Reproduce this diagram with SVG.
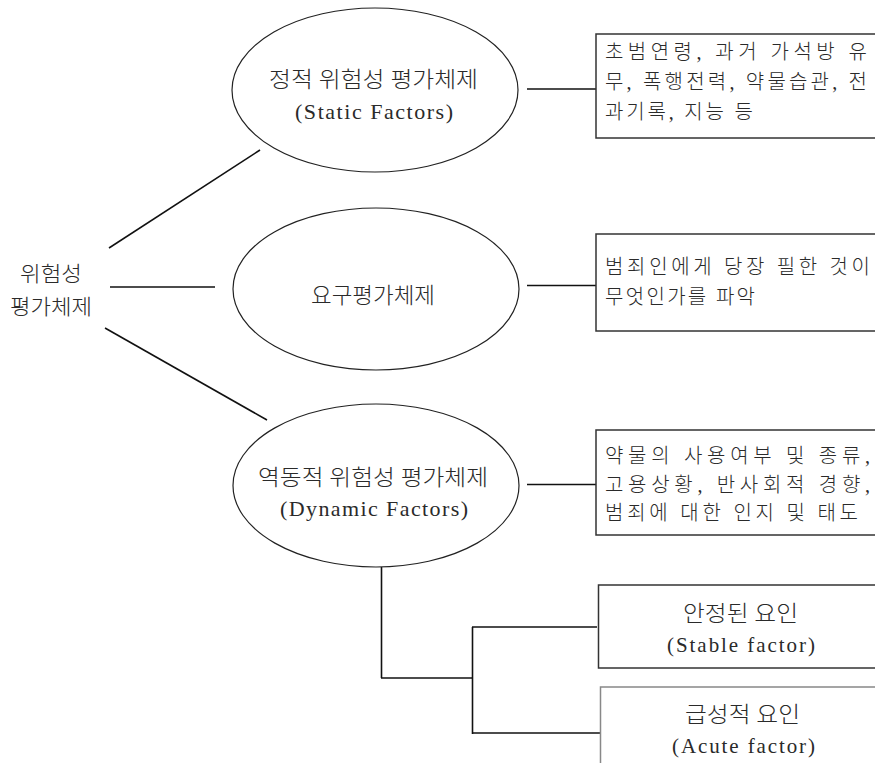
<svg xmlns="http://www.w3.org/2000/svg" width="875" height="763" viewBox="0 0 875 763">
<style>
text{font-family:"Liberation Serif","Noto Sans CJK KR",serif;fill:#2a2a2a;font-weight:300}
text.lat{font-weight:normal}
.ell{fill:none;stroke:#222;stroke-width:1.2}
.box{fill:#fff;stroke:#333;stroke-width:1.5}
.box2{fill:#fff;stroke:#888;stroke-width:1.5}
.con line{stroke:#111;stroke-width:1.6;fill:none}
.e{font-size:22px}
.b{font-size:20px}
.l{font-size:21px}
</style>
<rect width="875" height="763" fill="#fff"/>
<g class="con" id="connectors">
<line x1="109" y1="248" x2="260" y2="150"/>
<line x1="110" y1="287" x2="215" y2="287"/>
<line x1="105" y1="328" x2="267" y2="420"/>
<line x1="527" y1="89" x2="596" y2="89"/>
<line x1="527" y1="285.5" x2="596" y2="285.5"/>
<line x1="527" y1="484.5" x2="596" y2="484.5"/>
<line x1="381.5" y1="567" x2="381.5" y2="678"/>
<line x1="381" y1="678" x2="473" y2="678"/>
<line x1="472.5" y1="627" x2="472.5" y2="734"/>
<line x1="472" y1="627" x2="597" y2="627"/>
<line x1="472" y1="733" x2="600" y2="733"/>
</g>
<g id="root">
<text class="l" x="20" y="281" textLength="62" lengthAdjust="spacingAndGlyphs">위험성</text>
<text class="l" x="10" y="314" textLength="82" lengthAdjust="spacingAndGlyphs">평가체제</text>
</g>
<g id="static">
<ellipse class="ell" cx="375" cy="90" rx="143" ry="82"/>
<text class="e" x="269" y="87" textLength="209" lengthAdjust="spacingAndGlyphs">정적 위험성 평가체제</text>
<text class="e lat" x="295" y="119" textLength="158" lengthAdjust="spacing">(Static Factors)</text>
</g>
<g id="need">
<ellipse class="ell" cx="376" cy="289" rx="143" ry="81"/>
<text class="e" x="311" y="303" textLength="124" lengthAdjust="spacingAndGlyphs">요구평가체제</text>
</g>
<g id="dynamic">
<ellipse class="ell" cx="376" cy="485.5" rx="143" ry="81.5"/>
<text class="e" x="258" y="485" textLength="230" lengthAdjust="spacingAndGlyphs">역동적 위험성 평가체제</text>
<text class="e lat" x="280" y="516" textLength="188" lengthAdjust="spacing">(Dynamic Factors)</text>
</g>
<g id="box-static">
<rect class="box" x="596" y="34" width="290" height="104"/>
<text class="b" x="605" y="59" textLength="262" lengthAdjust="spacing">초범연령, 과거 가석방 유</text>
<text class="b" x="605" y="89" textLength="262" lengthAdjust="spacing">무, 폭행전력, 약물습관, 전</text>
<text class="b" x="605" y="119" textLength="148" lengthAdjust="spacing">과기록, 지능 등</text>
</g>
<g id="box-need">
<rect class="box" x="596" y="234" width="290" height="97"/>
<text class="b" x="605" y="274" textLength="265" lengthAdjust="spacing">범죄인에게 당장 필한 것이</text>
<text class="b" x="605" y="304" textLength="150" lengthAdjust="spacing">무엇인가를 파악</text>
</g>
<g id="box-dynamic">
<rect class="box" x="596" y="430" width="290" height="105"/>
<text class="b" x="605" y="463" textLength="265" lengthAdjust="spacing">약물의 사용여부 및 종류,</text>
<text class="b" x="605" y="492" textLength="265" lengthAdjust="spacing">고용상황, 반사회적 경향,</text>
<text class="b" x="605" y="520" textLength="253" lengthAdjust="spacing">범죄에 대한 인지 및 태도</text>
</g>
<g id="stable">
<rect class="box" x="598.5" y="585" width="290" height="83"/>
<text class="e" x="683" y="621" textLength="115" lengthAdjust="spacingAndGlyphs">안정된 요인</text>
<text class="l lat" x="667" y="652" textLength="148" lengthAdjust="spacing">(Stable factor)</text>
</g>
<g id="acute">
<rect class="box2" x="600.5" y="687" width="290" height="90"/>
<text class="e" x="685" y="722" textLength="115" lengthAdjust="spacingAndGlyphs">급성적 요인</text>
<text class="l lat" x="672" y="753" textLength="143" lengthAdjust="spacing">(Acute factor)</text>
</g>
</svg>
